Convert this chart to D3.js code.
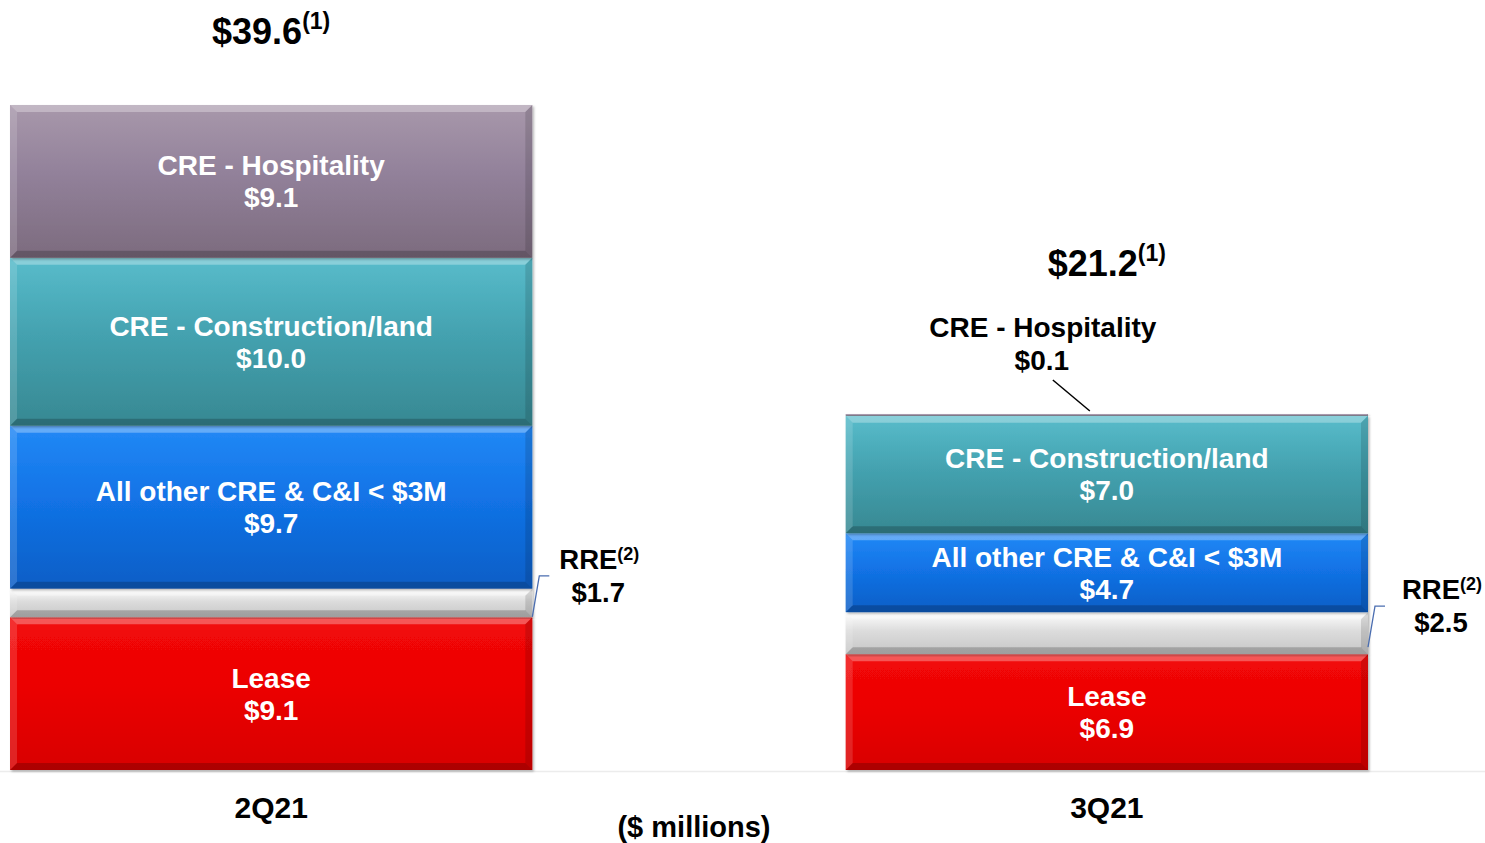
<!DOCTYPE html>
<html>
<head>
<meta charset="utf-8">
<script src="https://cdn.jsdelivr.net/npm/d3@7"></script>
<style>
  body { margin: 0; background: #fff; }
  svg { display: block; font-family: "Liberation Sans", Arial, sans-serif; font-weight: bold; }
</style>
</head>
<body>
<div class="chart-container"></div>
<script>
//! DATA
const categories = ['2Q21', '3Q21'];
const seriesKeys = ['lease', 'rre', 'allOther', 'construction', 'hospitality'];
const seriesNames = ['Lease', 'RRE', 'All other CRE & C&I < $3M', 'CRE - Construction/land', 'CRE - Hospitality'];
const lease = [9.1, 6.9];
const rre = [1.7, 2.5];
const allOther = [9.7, 4.7];
const construction = [10.0, 7.0];
const hospitality = [9.1, 0.1];
const totals = [39.6, 21.2];
const unitLabel = '($ millions)';

//! CONSTS
const width = 1485;
const height = 843;
const baseY = 770;

const colors = {
  lease: ['#f20808', '#ec0404', '#d80000'],
  rre: ['#ffffff', '#dcdcdc', '#c6c6c6'],
  allOther: ['#2289f6', '#1273e6', '#0b5ec6'],
  construction: ['#58bccb', '#44a2b0', '#378892'],
  hospitality: ['#a898ab', '#92819a', '#7c6b7e']
};

const table = categories.map((c, i) => ({
  cat: c,
  lease: lease[i], rre: rre[i], allOther: allOther[i],
  construction: construction[i], hospitality: hospitality[i]
}));

const stacked = d3.stack().keys(seriesKeys)(table);

//! SVG
const svg = d3.select('.chart-container')
  .append('svg')
  .attr('width', width)
  .attr('height', height);

const defs = svg.append('defs');
seriesKeys.forEach(k => {
  const g = defs.append('linearGradient')
    .attr('id', 'grad-' + k)
    .attr('x1', 0).attr('y1', 0).attr('x2', 0).attr('y2', 1);
  g.append('stop').attr('offset', '0%').attr('stop-color', colors[k][0]);
  g.append('stop').attr('offset', '45%').attr('stop-color', colors[k][1]);
  g.append('stop').attr('offset', '100%').attr('stop-color', colors[k][2]);
});
const shadow = defs.append('filter').attr('id', 'shadow')
  .attr('x', '-5%').attr('y', '-5%').attr('width', '110%').attr('height', '110%');
shadow.append('feDropShadow').attr('dx', 1.5).attr('dy', 1.5)
  .attr('stdDeviation', 1.2).attr('flood-color', '#000').attr('flood-opacity', 0.3);

//! SCALES
const xScale = d3.scaleBand()
  .domain(categories)
  .range([10, 1368])
  .paddingInner(0.375)
  .paddingOuter(0);

const yScale = d3.scaleLinear()
  .domain([0, 39.6])
  .range([baseY, 105]);

// baseline
svg.append('line')
  .attr('x1', 0).attr('x2', width)
  .attr('y1', baseY + 1.5).attr('y2', baseY + 1.5)
  .attr('stroke', '#ececec').attr('stroke-width', 1.5);

//! BARS
const bw = xScale.bandwidth();
stacked.forEach(layer => {
  const key = layer.key;
  layer.forEach((d, i) => {
    const x = xScale(categories[i]);
    const y0 = yScale(d[1]);
    const h = yScale(d[0]) - yScale(d[1]);
    const g = svg.append('g').attr('class', 'seg ' + key);
    g.append('rect')
      .attr('x', x).attr('y', y0)
      .attr('width', bw).attr('height', h)
      .attr('fill', `url(#grad-${key})`)
      .attr('filter', 'url(#shadow)');
    const b = Math.min(7, h / 3);
    const poly = (pts, fill, op) => g.append('polygon')
      .attr('points', pts.map(p => p.join(',')).join(' '))
      .attr('fill', fill).attr('opacity', op);
    poly([[x, y0], [x + bw, y0], [x + bw - b, y0 + b], [x + b, y0 + b]], '#fff', 0.3);
    poly([[x, y0 + h], [x + bw, y0 + h], [x + bw - b, y0 + h - b], [x + b, y0 + h - b]], '#000', 0.2);
    poly([[x, y0], [x + b, y0 + b], [x + b, y0 + h - b], [x, y0 + h]], '#fff', 0.14);
    poly([[x + bw, y0], [x + bw - b, y0 + b], [x + bw - b, y0 + h - b], [x + bw, y0 + h]], '#000', 0.13);
  });
});

//! LABELS INSIDE
const fmt = v => '$' + d3.format('.1f')(v);
stacked.forEach((layer, si) => {
  layer.forEach((d, i) => {
    const h = yScale(d[0]) - yScale(d[1]);
    if (h < 60) return;
    const cx = xScale(categories[i]) + bw / 2;
    const cy = (yScale(d[0]) + yScale(d[1])) / 2;
    const t = svg.append('text')
      .attr('x', cx).attr('y', cy - 6)
      .attr('text-anchor', 'middle')
      .attr('fill', '#fff')
      .style('font-size', '28px');
    t.append('tspan').attr('x', cx).text(seriesNames[si]);
    t.append('tspan').attr('x', cx).attr('dy', 32).text(fmt(d.data[layer.key]));
  });
});

//! CALLOUTS
const black = '#000';
// RRE callouts on the right of each bar
const rreLayer = stacked[1];
rreLayer.forEach((d, i) => {
  const right = xScale(categories[i]) + bw;
  const mid = (yScale(d[0]) + yScale(d[1])) / 2;
  const topY = mid - 27;
  svg.append('polyline')
    .attr('points', `${right},${mid + 14} ${right + 7},${topY} ${right + 17},${topY}`)
    .attr('fill', 'none').attr('stroke', '#4a6db0').attr('stroke-width', 1.3);
  const cx = right + 67 + (i === 1 ? 7 : 0);
  const t = svg.append('text')
    .attr('x', cx).attr('y', topY - 7)
    .attr('text-anchor', 'middle').attr('fill', black)
    .style('font-size', '27.5px');
  t.append('tspan').text(seriesNames[1]);
  t.append('tspan').attr('dy', -9).style('font-size', '18px').text('(2)');
  svg.append('text')
    .attr('x', cx - 1).attr('y', topY + 26)
    .attr('text-anchor', 'middle').attr('fill', black)
    .style('font-size', '27.5px')
    .text(fmt(d.data.rre));
});

// Hospitality callout for 3Q21 (too thin for an inside label)
{
  const i = 1;
  const d = stacked[4][i];
  const cx = xScale(categories[i]) + bw / 2;
  const top = yScale(d[1]);
  svg.append('line')
    .attr('x1', cx - 54).attr('y1', top - 34)
    .attr('x2', cx - 17).attr('y2', top - 3)
    .attr('stroke', black).attr('stroke-width', 1.5);
  const t = svg.append('text')
    .attr('x', cx - 64).attr('y', top - 77)
    .attr('text-anchor', 'middle').attr('fill', black)
    .style('font-size', '28px');
  t.append('tspan').attr('x', cx - 64).text(seriesNames[4]);
  t.append('tspan').attr('x', cx - 65).attr('dy', 33).text(fmt(d.data.hospitality));
}

//! TOTALS
const totalY = [44, 276];
totals.forEach((v, i) => {
  const cx = xScale(categories[i]) + bw / 2;
  const t = svg.append('text')
    .attr('x', cx).attr('y', totalY[i])
    .attr('text-anchor', 'middle').attr('fill', black)
    .style('font-size', '36px');
  t.append('tspan').text(fmt(v));
  t.append('tspan').attr('dy', -15).style('font-size', '23px').text('(1)');
});

//! CATEGORY AXIS
const xAxis = d3.axisBottom(xScale).tickSize(0).tickPadding(0);
const axisG = svg.append('g')
  .attr('transform', `translate(0,${baseY + 27})`)
  .call(xAxis);
axisG.select('.domain').remove();
axisG.selectAll('text')
  .attr('dy', '0.71em')
  .style('font-family', '"Liberation Sans", Arial, sans-serif')
  .style('font-weight', 'bold')
  .style('font-size', '30px')
  .attr('fill', black);

svg.append('text')
  .attr('x', 694).attr('y', 837)
  .attr('text-anchor', 'middle').attr('fill', black)
  .style('font-size', '29px')
  .text(unitLabel);
</script>
</body>
</html>
